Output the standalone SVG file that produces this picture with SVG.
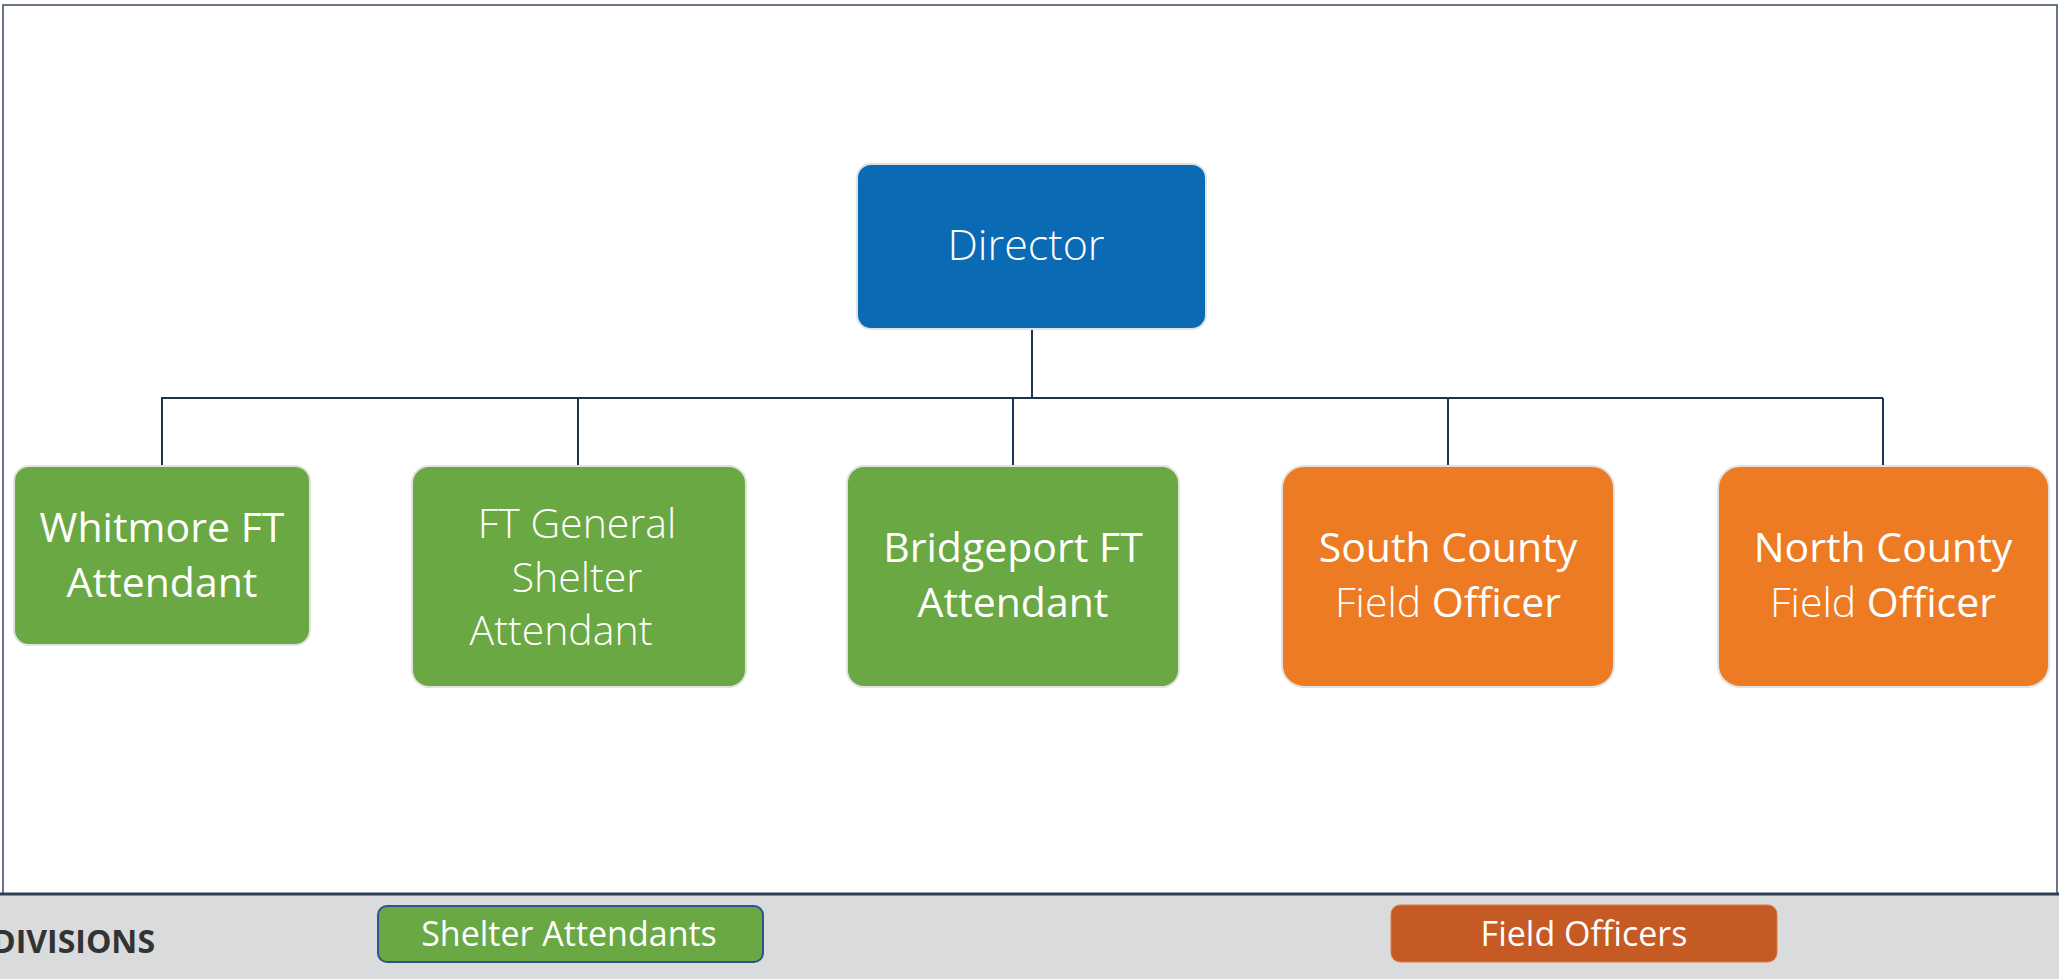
<svg xmlns="http://www.w3.org/2000/svg" width="2059" height="979" viewBox="0 0 2059 979">
<style>
.t{font-family:"Open Sans","Noto Sans","Liberation Sans",sans-serif;fill:#fff;text-anchor:middle}
.lt{font-weight:300}
.rg{font-weight:400}
.box{stroke:#E2E2E2;stroke-width:2}
.g{fill:#6AA843}
.o{fill:#EC7B24}
.con{stroke:#1F3350;fill:none;stroke-width:2}
</style>
<rect x="0" y="0" width="2059" height="979" fill="#fff"/>
<rect x="3" y="5" width="2054" height="889" fill="none" stroke="#3A4A60" stroke-width="1.5"/>
<g id="connectors">
<line class="con" x1="1032" y1="329" x2="1032" y2="398" stroke-width="3"/>
<line class="con" x1="161" y1="398" x2="1883" y2="398" stroke-width="2.5"/>
<line class="con" x1="162" y1="398" x2="162" y2="466"/>
<line class="con" x1="578" y1="398" x2="578" y2="466"/>
<line class="con" x1="1013" y1="398" x2="1013" y2="466"/>
<line class="con" x1="1448" y1="398" x2="1448" y2="466"/>
<line class="con" x1="1883" y1="398" x2="1883" y2="466"/>
</g>
<g id="director">
<rect class="box" x="857" y="164" width="349" height="165" rx="14" fill="#0B6AB4"/>
<text class="t lt" x="1026" y="260" font-size="43">Director</text>
</g>
<g id="whitmore">
<rect class="box g" x="14" y="466" width="296" height="179" rx="15"/>
<text class="t rg" font-size="41"><tspan x="162" y="542">Whitmore FT</tspan><tspan x="162" y="597">Attendant</tspan></text>
</g>
<g id="ft-general">
<rect class="box g" x="412" y="466" width="334" height="221" rx="17"/>
<text class="t lt" font-size="41"><tspan x="577" y="538">FT General</tspan><tspan x="577" y="592">Shelter</tspan><tspan x="561" y="645">Attendant</tspan></text>
</g>
<g id="bridgeport">
<rect class="box g" x="847" y="466" width="332" height="221" rx="17"/>
<text class="t rg" font-size="41"><tspan x="1013" y="562">Bridgeport FT</tspan><tspan x="1013" y="617">Attendant</tspan></text>
</g>
<g id="south-county">
<rect class="box o" x="1282" y="466" width="332" height="221" rx="22"/>
<text class="t rg" font-size="41"><tspan x="1448" y="562">South County</tspan><tspan x="1448" y="617"><tspan class="lt">Field</tspan> Officer</tspan></text>
</g>
<g id="north-county">
<rect class="box o" x="1718" y="466" width="331" height="221" rx="22"/>
<text class="t rg" font-size="41"><tspan x="1883" y="562">North County</tspan><tspan x="1883" y="617"><tspan class="lt">Field</tspan> Officer</tspan></text>
</g>
<g id="legend">
<rect x="0" y="894" width="2059" height="85" fill="#DADBDD"/>
<line x1="0" y1="894" x2="2059" y2="894" stroke="#2E3E55" stroke-width="3"/>
<text x="-8" y="953" font-family="Open Sans, Noto Sans, Liberation Sans, sans-serif" font-weight="700" font-size="32" fill="#333">DIVISIONS</text>
<g id="legend-shelter">
<rect x="378" y="906" width="385" height="56" rx="9" fill="#6AA843" stroke="#2F528F" stroke-width="2"/>
<text class="t rg" x="569" y="946" font-size="34">Shelter Attendants</text>
</g>
<g id="legend-field">
<rect x="1391" y="905" width="386" height="57" rx="9" fill="#C55A25" stroke="#E07B45" stroke-width="1"/>
<text class="t rg" x="1584" y="946" font-size="34">Field Officers</text>
</g>
</g>
</svg>
